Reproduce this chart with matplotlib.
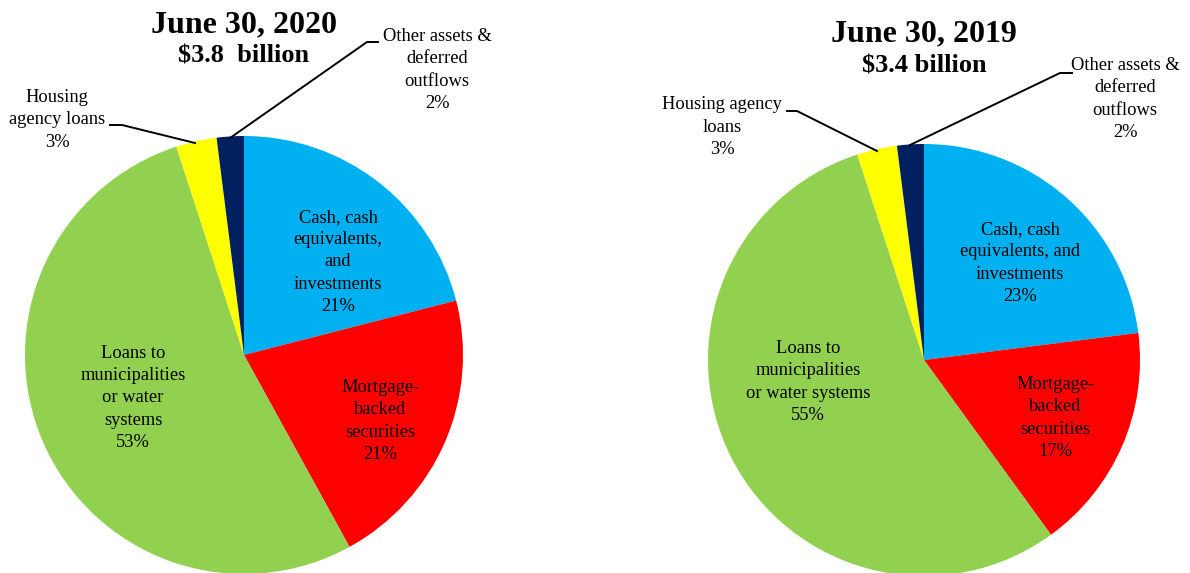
import matplotlib
matplotlib.use("Agg")
import matplotlib.pyplot as plt

plt.rcParams['font.family'] = ['Liberation Serif', 'DejaVu Serif']

# asset categories (clockwise from 12 o'clock)
categories_2020 = ["Cash, cash\nequivalents,\nand\ninvestments", "Mortgage-\nbacked\nsecurities",
                   "Loans to\nmunicipalities\nor water\nsystems", "Housing\nagency loans",
                   "Other assets &\ndeferred\noutflows"]
categories_2019 = ["Cash, cash\nequivalents, and\ninvestments", "Mortgage-\nbacked\nsecurities",
                   "Loans to\nmunicipalities\nor water systems", "Housing agency\nloans",
                   "Other assets &\ndeferred\noutflows"]
pct_2020 = [21, 21, 53, 3, 2]
pct_2019 = [23, 17, 55, 3, 2]
titles = ["June 30, 2020", "June 30, 2019"]
totals = ["$3.8  billion", "$3.4 billion"]

colors = ['#00B0F0', '#FF0000', '#92D050', '#FFFF00', '#002060']

W, H = 1190, 573
fig = plt.figure(figsize=(W / 100, H / 100), dpi=100)
ax = fig.add_axes([0, 0, 1, 1])


def Y(y):
    # pixel rows counted from the top
    return H - y


charts = [
    dict(values=pct_2020, labels=categories_2020, title=titles[0], total=totals[0],
         center=(244, 355), radius=219,
         title_y=32, total_y=63,
         label_xy=[(338, 262), (380, 421), (133, 398), (57, 120), (437, 70)],
         leaders={3: [(110, 125), (122, 125), (195, 143)],
                  4: [(378, 42), (367, 42), (230, 138)]}),
    dict(values=pct_2019, labels=categories_2019, title=titles[1], total=totals[1],
         center=(924, 360), radius=216,
         title_y=41, total_y=72,
         label_xy=[(1020, 263), (1055, 418), (808, 382), (722, 127), (1125, 99)],
         leaders={3: [(787, 111), (797, 111), (877, 151)],
                  4: [(1072, 73), (1060, 73), (910, 145)]}),
]

for c in charts:
    cx, cy = c['center']
    ax.pie(c['values'], colors=colors, startangle=90, counterclock=False,
           center=(cx, Y(cy)), radius=c['radius'], frame=True,
           wedgeprops=dict(linewidth=0))
    ax.text(cx, Y(c['title_y']), c['title'], ha='center', va='baseline',
            fontsize=23, fontweight='bold')
    ax.text(cx, Y(c['total_y']), c['total'], ha='center', va='baseline',
            fontsize=19, fontweight='bold')
    for (lx, ly), name, v in zip(c['label_xy'], c['labels'], c['values']):
        ax.text(lx, Y(ly), f"{name}\n{v}%", ha='center', va='center',
                multialignment='center', fontsize=13.3, linespacing=1.4)
    for pts in c['leaders'].values():
        ax.plot([p[0] for p in pts], [Y(p[1]) for p in pts], color='black', lw=1.4)

ax.set_xlim(0, W)
ax.set_ylim(0, H)
ax.set_aspect('equal')
ax.axis('off')

fig.savefig('out.png', dpi=100, facecolor='white')
